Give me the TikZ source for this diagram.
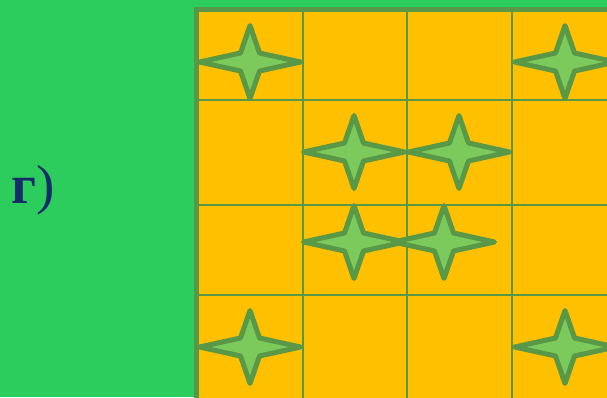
\documentclass[tikz,border=0pt]{standalone}
\usepackage{fontspec}
\newfontfamily\labelfont{Liberation Serif}
\definecolor{bggreen}{RGB}{44,205,92}
\definecolor{cellorange}{RGB}{255,192,0}
\definecolor{linegreen}{RGB}{88,152,70}
\definecolor{starfill}{RGB}{124,202,92}
\definecolor{labelblue}{RGB}{22,44,104}
\tikzset{
  gridline/.style={draw=linegreen, line width=2pt},
  borderline/.style={draw=linegreen, line width=5pt},
  starshape/.style={draw=linegreen, fill=starfill, line width=5pt, line join=round},
  labeltext/.style={text=labelblue, font=\labelfont\fontsize{55}{60}\selectfont, inner sep=0pt}
}
\newcommand{\fourstar}[2]{%
  \draw[starshape, shift={(#1,#2)}] (-50.5,0) -- (-9.5,-9) -- (0,-36.5) -- (9.5,-9) -- (50.5,0) -- (9.5,9) -- (0,36.5) -- (-9.5,9) -- cycle;}
\begin{document}
\begin{tikzpicture}[x=1pt,y=-1pt]
\useasboundingbox (0,0) rectangle (607,397);
\fill[bggreen] (0,0) rectangle (607,397);
\begin{scope}
\clip (0,0) rectangle (607,397);
\fill[cellorange] (196.5,9.5) rectangle (620,410);
\foreach \xx in {302.5,407,512} \draw[gridline] (\xx,9.5) -- (\xx,410);
\foreach \yy in {99.5,205,295} \draw[gridline] (196.5,\yy) -- (620,\yy);
\draw[borderline] (196.5,410) -- (196.5,9.5) -- (620,9.5);
\fourstar{250}{62}
\fourstar{565}{62}
\fourstar{354}{152}
\fourstar{459}{152}
\fourstar{354}{242}
\fourstar{444}{242}
\fourstar{250}{347}
\fourstar{565}{347}
\end{scope}
\node[labeltext, anchor=base west] (lbl) at (11,203) {{\bfseries г})};
\end{tikzpicture}
\end{document}
